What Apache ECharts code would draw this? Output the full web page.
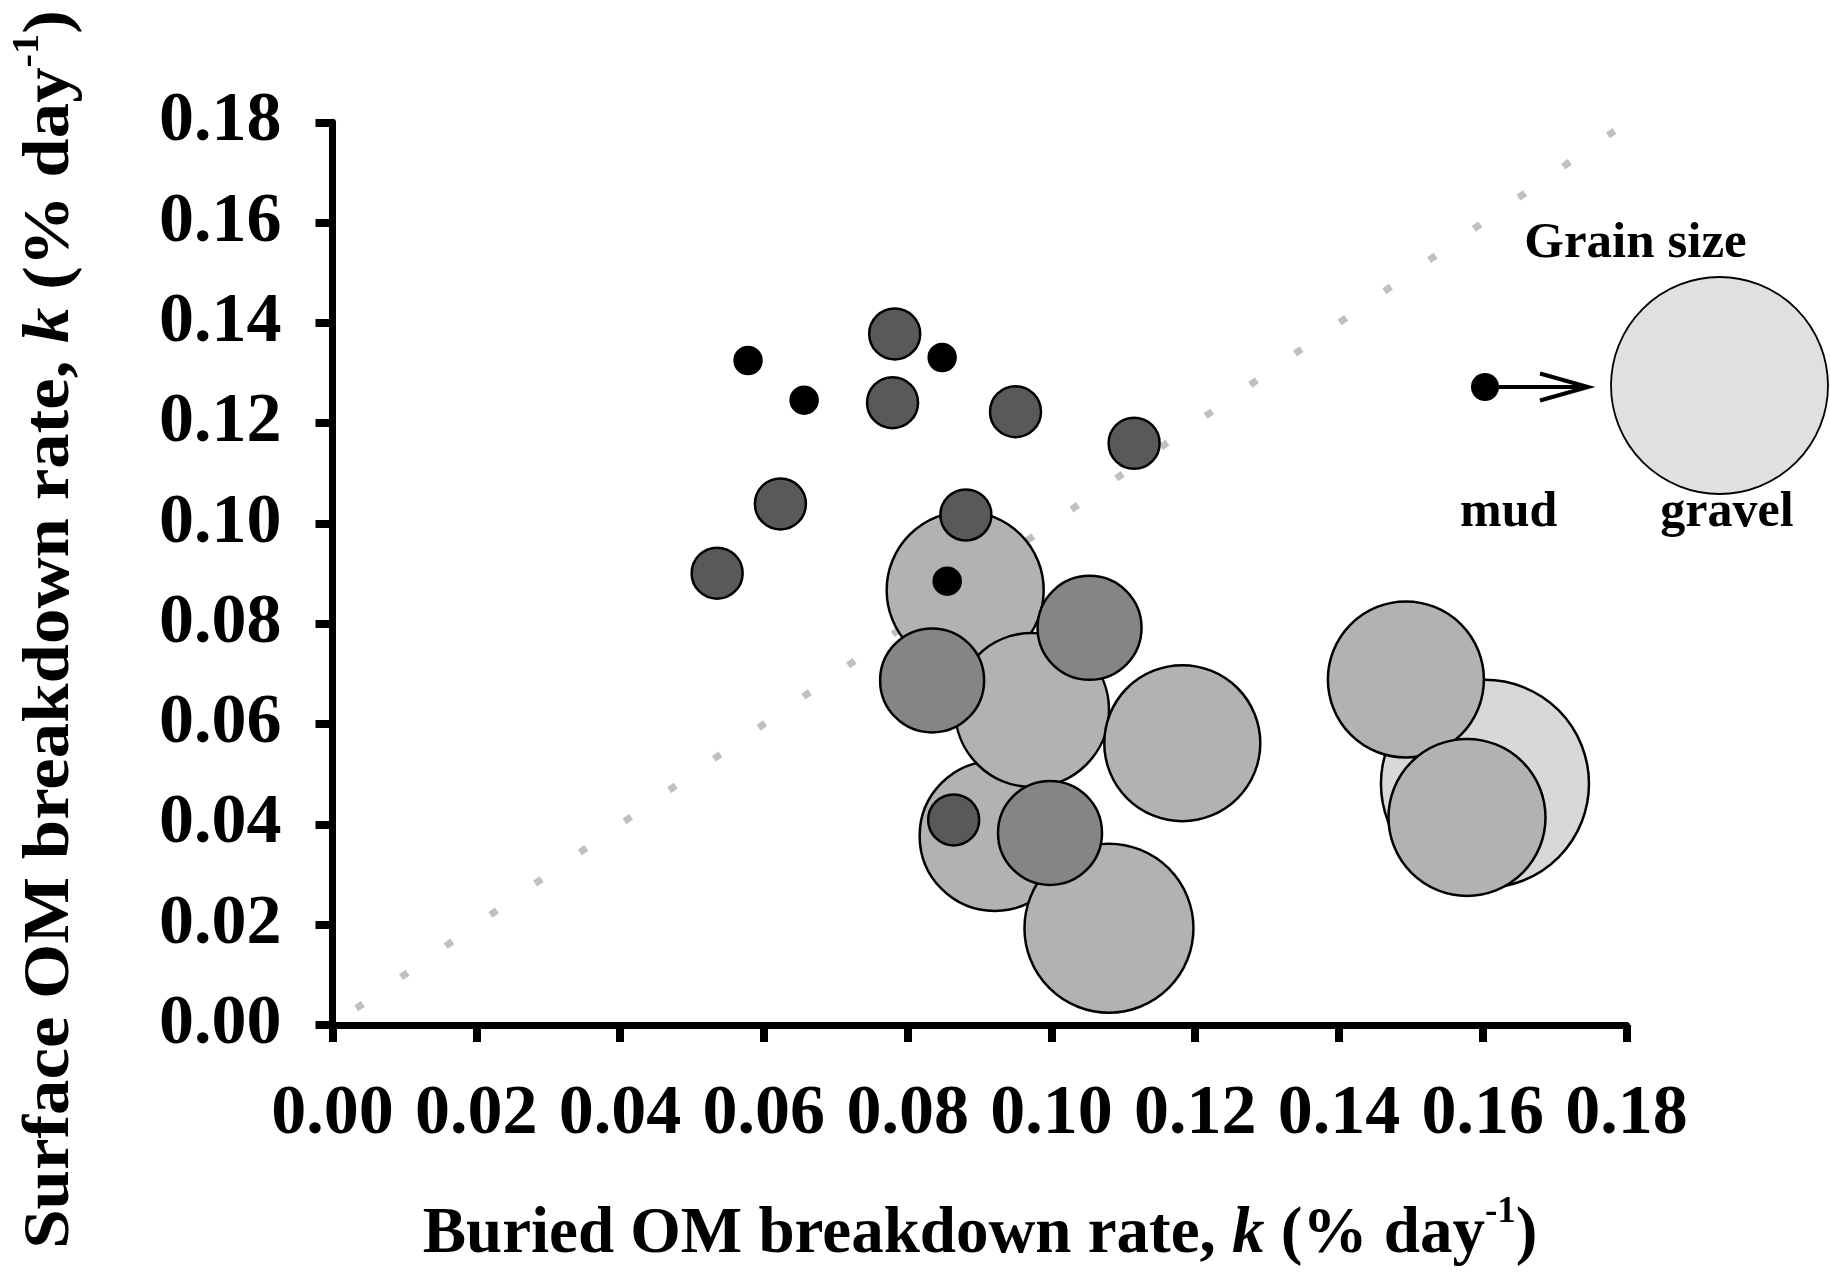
<!DOCTYPE html>
<html>
<head>
<meta charset="utf-8">
<script src="https://cdn.jsdelivr.net/npm/echarts@6/dist/echarts.min.js"></script>
<style>
  html, body { margin: 0; padding: 0; background: #fff; }
  #chart { width: 1830px; height: 1275px; }
</style>
</head>
<body>
<div id="chart"></div>
<script>
// Breakdown rates (% day-1): [buried k, surface k, grain-size index]
// One array per grain-size class, finest first.
const mudPoints = [
  [0.0578, 0.1325, 2.7],
  [0.0656, 0.1246, 2.7],
  [0.0848, 0.1331, 2.7],
  [0.0855, 0.0885, 2.7]
];
const fineSandPoints = [
  [0.0782, 0.1378, 5.1],
  [0.0779, 0.1241, 5.1],
  [0.0950, 0.1223, 5.1],
  [0.1115, 0.1160, 5.1],
  [0.0623, 0.1039, 5.1],
  [0.0535, 0.0901, 5.1],
  [0.0881, 0.1017, 5.1],
  [0.0864, 0.0409, 5.1]
];
const sandPoints = [
  [0.0834, 0.0687, 10.4],
  [0.1053, 0.0792, 10.4],
  [0.0998, 0.0383, 10.4]
];
const coarseSandPoints = [
  [0.0880, 0.0867, 15.7],
  [0.0921, 0.0377, 15.0],
  [0.0973, 0.0628, 15.4],
  [0.1080, 0.0193, 16.9],
  [0.1182, 0.0562, 15.6],
  [0.1493, 0.0689, 15.6],
  [0.1578, 0.0414, 15.7]
];
const gravelPoints = [
  [0.1603, 0.0481, 20.8]
];
// 1:1 reference line, same value on both axes
const oneToOne = [0, 0.18];
// Axis ticks
const tickMin = 0, tickMax = 0.18, tickStep = 0.02;

const FONT = '"Liberation Serif", "Times New Roman", serif';
const sizeOf = v => v[2] * 10;

function bubbles(name, data, fill) {
  return {
    name: name,
    type: 'scatter',
    data: data,
    symbol: 'circle',
    symbolSize: sizeOf,
    itemStyle: { color: fill, borderColor: '#000', borderWidth: 2.5, opacity: 1 },
    emphasis: { disabled: true },
    silent: true
  };
}

const axisCommon = {
  type: 'value',
  min: tickMin,
  max: tickMax,
  interval: tickStep,
  splitLine: { show: false },
  axisLine: { show: true, onZero: false, lineStyle: { color: '#000', width: 7 } },
  axisTick: { show: true, inside: false, length: 17, lineStyle: { color: '#000', width: 8 } },
  axisLabel: {
    color: '#000',
    fontFamily: FONT,
    fontWeight: 'bold',
    fontSize: 70,
    formatter: v => v.toFixed(2)
  }
};

const titleRich = {
  a: { fontFamily: FONT, fontWeight: 'bold', fontSize: 65, lineHeight: 82, color: '#000' },
  k: { fontFamily: FONT, fontWeight: 'bold', fontStyle: 'italic', fontSize: 65, lineHeight: 82, color: '#000' },
  sup: { fontFamily: FONT, fontWeight: 'bold', fontSize: 37, lineHeight: 37, verticalAlign: 'top', color: '#000' }
};

const chart = echarts.init(document.getElementById('chart'), null, { renderer: 'canvas' });
chart.setOption({
  animation: false,
  backgroundColor: '#fff',
  grid: { left: 332.5, right: 203.4, top: 122.3, bottom: 250, containLabel: false },
  xAxis: Object.assign({}, axisCommon, {
    axisLabel: Object.assign({}, axisCommon.axisLabel, { margin: 55 })
  }),
  yAxis: Object.assign({}, axisCommon, {
    axisLabel: Object.assign({}, axisCommon.axisLabel, { margin: 51 })
  }),
  series: [
    {
      name: '1:1',
      type: 'line',
      data: [[oneToOne[0], oneToOne[0]], [oneToOne[1], oneToOne[1]]],
      symbol: 'none',
      lineStyle: { color: '#c0c0c0', width: 7, type: [8, 46.5], dashOffset: 25.5, cap: 'butt' },
      silent: true,
      z: 1
    },
    bubbles('gravel', gravelPoints, '#d8d8d8'),
    bubbles('coarse sand', coarseSandPoints, '#b2b2b2'),
    bubbles('sand', sandPoints, '#858585'),
    bubbles('fine sand', fineSandPoints, '#595959'),
    bubbles('mud', mudPoints, '#000000')
  ],
  graphic: [
    // axis titles
    {
      type: 'text', x: 980, y: 1235,
      style: {
        text: '{a|Buried OM breakdown rate, }{k|k}{a| (% day}{sup|-1}{a|)}',
        rich: titleRich, align: 'center', verticalAlign: 'middle'
      }
    },
    {
      type: 'text', x: 51, y: 629.5, rotation: Math.PI / 2, scaleX: 1.09,
      style: {
        text: '{a|Surface OM breakdown rate, }{k|k}{a| (% day}{sup|-1}{a|)}',
        rich: titleRich, align: 'center', verticalAlign: 'middle'
      }
    },
    // grain-size key
    {
      type: 'text', x: 1635.5, y: 243.5,
      style: { text: 'Grain size', fontFamily: FONT, fontWeight: 'bold', fontSize: 51, fill: '#000', align: 'center', verticalAlign: 'middle' }
    },
    {
      type: 'circle', shape: { cx: 1485, cy: 387, r: 14 },
      style: { fill: '#000' }
    },
    {
      type: 'line', shape: { x1: 1499, y1: 387, x2: 1587, y2: 387 },
      style: { stroke: '#000', lineWidth: 4 }
    },
    {
      type: 'polyline', shape: { points: [[1540, 373.5], [1588, 387], [1540, 400.5]] },
      style: { stroke: '#000', lineWidth: 4, fill: null }
    },
    {
      type: 'circle', shape: { cx: 1719.5, cy: 385.5, r: 108.5 },
      style: { fill: '#e0e0e0', stroke: '#000', lineWidth: 1.8 }
    },
    {
      type: 'text', x: 1508.7, y: 513,
      style: { text: 'mud', fontFamily: FONT, fontWeight: 'bold', fontSize: 50, fill: '#000', align: 'center', verticalAlign: 'middle' }
    },
    {
      type: 'text', x: 1727, y: 513,
      style: { text: 'gravel', fontFamily: FONT, fontWeight: 'bold', fontSize: 50, fill: '#000', align: 'center', verticalAlign: 'middle' }
    }
  ]
});
</script>
</body>
</html>
